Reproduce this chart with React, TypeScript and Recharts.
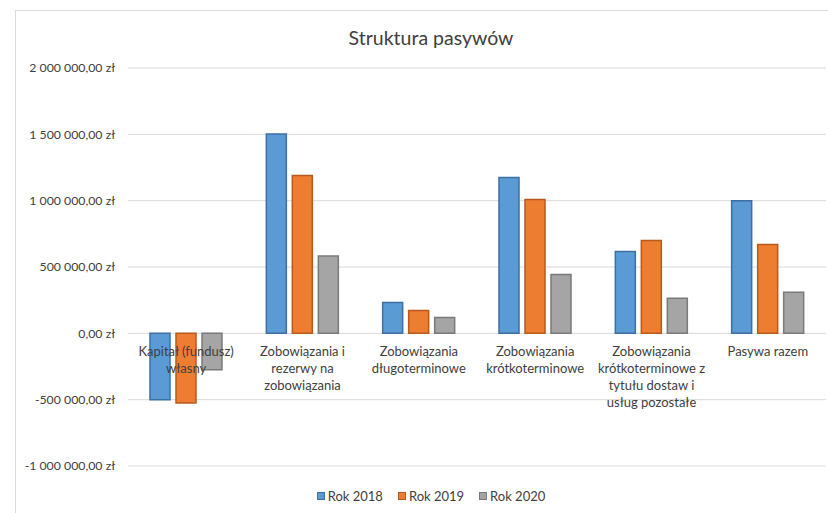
import { BarChart, Bar, XAxis, YAxis, CartesianGrid, Legend } from "recharts";

const categories = [
  "Kapitał (fundusz)\nwłasny",
  "Zobowiązania i\nrezerwy na\nzobowiązania",
  "Zobowiązania\ndługoterminowe",
  "Zobowiązania\nkrótkoterminowe",
  "Zobowiązania\nkrótkoterminowe z\ntytułu dostaw i\nusług pozostałe",
  "Pasywa razem",
];
const rok2018 = [-500000, 1502000, 233000, 1175000, 617000, 1000000];
const rok2019 = [-525000, 1190000, 173000, 1009000, 700000, 670000];
const rok2020 = [-275000, 583000, 120000, 444000, 264000, 309000];
const yTicks = [-1000000, -500000, 0, 500000, 1000000, 1500000, 2000000];

const series = [
  { key: "Rok 2018", values: rok2018, fill: "#5b9bd5", stroke: "#3c6fa3" },
  { key: "Rok 2019", values: rok2019, fill: "#ed7d31", stroke: "#b85a1c" },
  { key: "Rok 2020", values: rok2020, fill: "#a5a5a5", stroke: "#7a7a7a" },
];

const data = categories.map((name, i) => {
  const row: Record<string, string | number> = { name };
  series.forEach((s) => (row[s.key] = s.values[i]));
  return row;
});

const W = 828;
const H = 513;
const MARGIN = { top: 68, right: 2, bottom: 46, left: 0 };
const X_AXIS_H = 1;
const Y_MIN = -1000000;
const Y_MAX = 2000000;
const PLOT_H = H - MARGIN.top - MARGIN.bottom - X_AXIS_H;
const ZERO_Y = MARGIN.top + (PLOT_H * Y_MAX) / (Y_MAX - Y_MIN);
const TEXT = "#404040";
const FONT = "Lato, 'Open Sans', sans-serif";

function formatZl(v: number) {
  const neg = v < 0;
  const int = Math.abs(Math.round(v)).toString().replace(/\B(?=(\d{3})+(?!\d))/g, " ");
  return (neg ? "-" : "") + int + ",00 zł";
}

function CategoryTick(props: any) {
  const { x, payload } = props;
  const lines = String(payload.value).split("\n");
  return (
    <text x={x} y={ZERO_Y + 23} textAnchor="middle" fill={TEXT} fontSize={13} fontFamily={FONT}>
      {lines.map((l, i) => (
        <tspan key={i} x={x} dy={i === 0 ? 0 : 17}>
          {l}
        </tspan>
      ))}
    </text>
  );
}

function LegendContent() {
  return (
    <div
      style={{
        display: "flex",
        justifyContent: "center",
        gap: 15,
        fontFamily: FONT,
        fontSize: 13,
        lineHeight: "16px",
        color: TEXT,
      }}
    >
      {series.map((s) => (
        <div key={s.key} style={{ display: "flex", alignItems: "center" }}>
          <span
            style={{
              display: "inline-block",
              width: 6,
              height: 6,
              background: s.fill,
              border: `1px solid ${s.stroke}`,
              marginRight: 3,
            }}
          />
          {s.key}
        </div>
      ))}
    </div>
  );
}

export default function App() {
  return (
    <div
      style={{
        position: "absolute",
        left: 0,
        top: 0,
        width: W,
        height: H,
        overflow: "hidden",
        background: "#fff",
        fontFamily: FONT,
      }}
    >
      <div
        style={{
          position: "absolute",
          left: 15,
          top: 10,
          width: 840,
          height: 540,
          border: "1px solid #d9d9d9",
        }}
      />
      <div
        style={{
          position: "absolute",
          left: 15,
          top: 26,
          width: 832,
          textAlign: "center",
          fontSize: 19.5,
          lineHeight: "24px",
          color: TEXT,
        }}
      >
        Struktura pasywów
      </div>
      <div style={{ position: "absolute", left: 0, top: 0 }}>
        <BarChart width={W} height={H} data={data} margin={MARGIN} barSize={20} barGap={6}>
          <CartesianGrid vertical={false} stroke="#d9d9d9" />
          <XAxis
            dataKey="name"
            height={X_AXIS_H}
            axisLine={false}
            tickLine={false}
            tickSize={0}
            tickMargin={0}
            interval={0}
            tick={<CategoryTick />}
          />
          <YAxis
            width={128}
            domain={[Y_MIN, Y_MAX]}
            ticks={yTicks}
            axisLine={false}
            tickLine={false}
            tickSize={0}
            tickMargin={13}
            tickFormatter={formatZl}
            tick={{ fill: TEXT, fontSize: 12.3, fontFamily: FONT }}
          />
          <Legend
            verticalAlign="middle"
            content={<LegendContent />}
            wrapperStyle={{ left: 15, width: 832, top: 488 }}
          />
          {series.map((s) => (
            <Bar
              key={s.key}
              dataKey={s.key}
              fill={s.fill}
              stroke={s.stroke}
              strokeWidth={1.5}
              isAnimationActive={false}
            />
          ))}
        </BarChart>
      </div>
    </div>
  );
}
